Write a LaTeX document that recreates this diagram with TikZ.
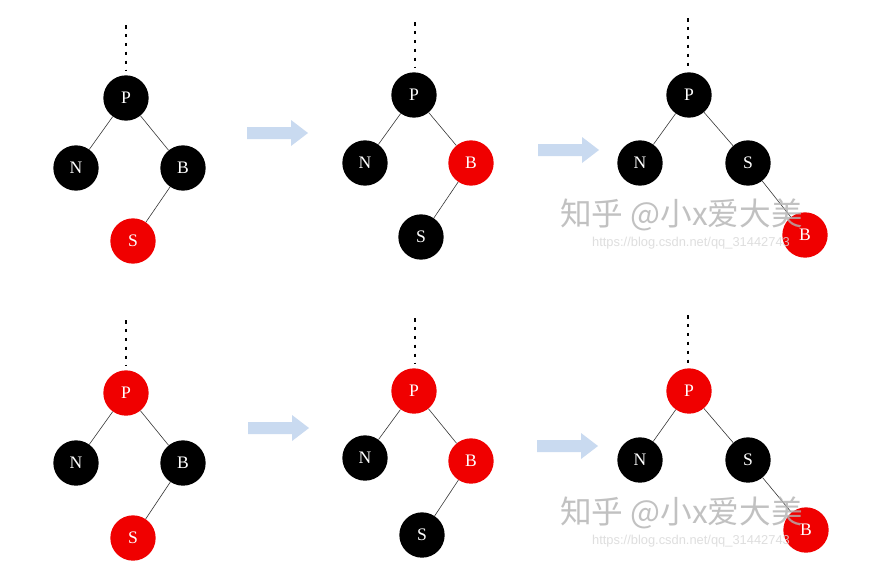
\documentclass[tikz,border=0pt]{standalone}
\usepackage{fontspec}
\setmainfont{Liberation Serif}
\newfontfamily\cjk{Noto Sans CJK SC}
\newfontfamily\wmsans{Liberation Sans}
\definecolor{arrowblue}{HTML}{C9DAF0}
\definecolor{nodered}{HTML}{F00000}
\tikzset{
  bnode/.style={circle,fill=black,minimum size=1.36cm,inner sep=0pt,text=white,font=\fontsize{15}{15}\selectfont},
  rnode/.style={circle,fill=nodered,minimum size=1.36cm,inner sep=0pt,text=white,font=\fontsize{15}{15}\selectfont},
  edge/.style={draw=black!80,line width=0.5pt},
  dots/.style={draw=black,line width=1.4pt,dash pattern=on 3pt off 4.6pt},
  fatarrow/.style={fill=arrowblue,draw=none},
  wm/.style={text=black!30,opacity=0.8,font=\cjk\fontsize{27}{27}\selectfont,anchor=west},
  wmurl/.style={text=black!15,opacity=0.85,font=\wmsans\fontsize{11}{11}\selectfont,anchor=west}
}
\begin{document}
\begin{tikzpicture}[x=0.03cm,y=-0.03cm]
\useasboundingbox (0,0) rectangle (877,578);
\fill[white] (0,0) rectangle (877,578);
% ---------- tree 1 ----------
\coordinate (t1d) at (126,25);
\coordinate (t1e) at (126,71);
\node[bnode] (t1P) at (126,98) {P};
\node[bnode] (t1N) at (76,168) {N};
\node[bnode] (t1B) at (183,168) {B};
\node[rnode] (t1S) at (133,241) {S};
\draw[dots] (t1d) -- (t1e);
\draw[edge] (t1P) -- (t1N);
\draw[edge] (t1P) -- (t1B);
\draw[edge] (t1B) -- (t1S);
% ---------- tree 2 ----------
\coordinate (t2d) at (415,22);
\coordinate (t2e) at (415,68);
\node[bnode] (t2P) at (414,95) {P};
\node[bnode] (t2N) at (365,163) {N};
\node[rnode] (t2B) at (471,163) {B};
\node[bnode] (t2S) at (421,237) {S};
\draw[dots] (t2d) -- (t2e);
\draw[edge] (t2P) -- (t2N);
\draw[edge] (t2P) -- (t2B);
\draw[edge] (t2B) -- (t2S);
% ---------- tree 3 ----------
\coordinate (t3d) at (688,18);
\coordinate (t3e) at (688,70);
\node[bnode] (t3P) at (689,95) {P};
\node[bnode] (t3N) at (640,163) {N};
\node[bnode] (t3S) at (748,163) {S};
\node[rnode] (t3B) at (805,235) {B};
\draw[dots] (t3d) -- (t3e);
\draw[edge] (t3P) -- (t3N);
\draw[edge] (t3P) -- (t3S);
\draw[edge] (t3S) -- (t3B);
% ---------- tree 4 ----------
\coordinate (t4d) at (126,320);
\coordinate (t4e) at (126,366);
\node[rnode] (t4P) at (126,393) {P};
\node[bnode] (t4N) at (76,463) {N};
\node[bnode] (t4B) at (183,463) {B};
\node[rnode] (t4S) at (133,538) {S};
\draw[dots] (t4d) -- (t4e);
\draw[edge] (t4P) -- (t4N);
\draw[edge] (t4P) -- (t4B);
\draw[edge] (t4B) -- (t4S);
% ---------- tree 5 ----------
\coordinate (t5d) at (415,318);
\coordinate (t5e) at (415,364);
\node[rnode] (t5P) at (414,391) {P};
\node[bnode] (t5N) at (365,458) {N};
\node[rnode] (t5B) at (471,461) {B};
\node[bnode] (t5S) at (422,535) {S};
\draw[dots] (t5d) -- (t5e);
\draw[edge] (t5P) -- (t5N);
\draw[edge] (t5P) -- (t5B);
\draw[edge] (t5B) -- (t5S);
% ---------- tree 6 ----------
\coordinate (t6d) at (688,315);
\coordinate (t6e) at (688,366);
\node[rnode] (t6P) at (689,391) {P};
\node[bnode] (t6N) at (640,460) {N};
\node[bnode] (t6S) at (748,460) {S};
\node[rnode] (t6B) at (806,530) {B};
\draw[dots] (t6d) -- (t6e);
\draw[edge] (t6P) -- (t6N);
\draw[edge] (t6P) -- (t6S);
\draw[edge] (t6S) -- (t6B);
% ---------- arrows ----------
\foreach \ax/\ay in {247/133, 538/150, 248/428, 537/446}{
  \fill[fatarrow] (\ax,\ay-6) -- (\ax+44,\ay-6) -- (\ax+44,\ay-13) -- (\ax+61,\ay)
     -- (\ax+44,\ay+13) -- (\ax+44,\ay+6) -- (\ax,\ay+6) -- cycle;
}
% ---------- watermarks ----------
\node[wm] (wm1) at (556,215) {知乎 @小x爱大美};
\node[wmurl] (wu1) at (588,243) {https://blog.csdn.net/qq\_31442743};
\node[wm] (wm2) at (556,513) {知乎 @小x爱大美};
\node[wmurl] (wu2) at (588,541) {https://blog.csdn.net/qq\_31442743};
\end{tikzpicture}
\end{document}
